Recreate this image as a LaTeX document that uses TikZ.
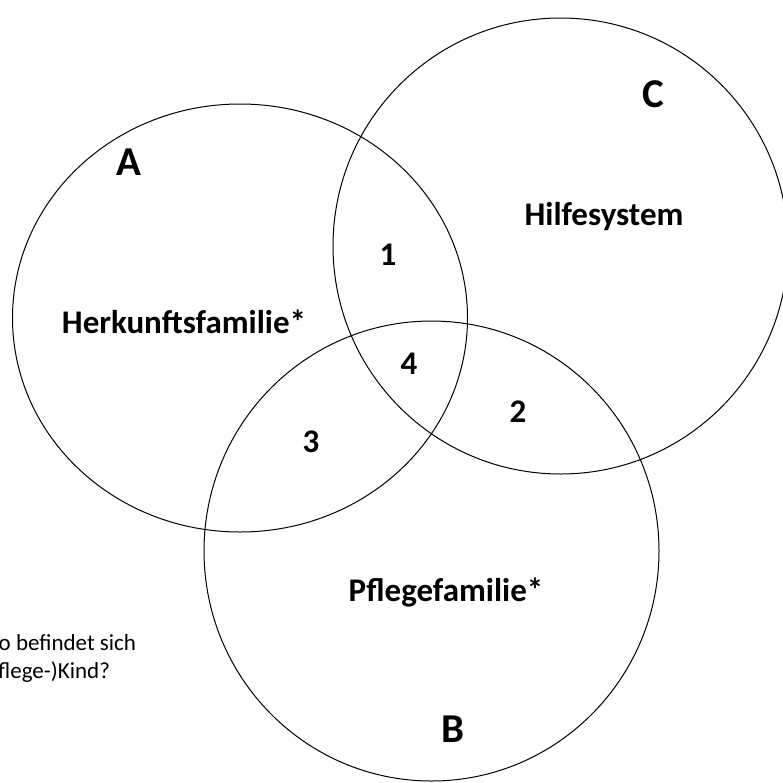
\documentclass[tikz,border=0pt]{standalone}
\usepackage{fontspec}
\setmainfont{Carlito}
\usepackage{tikz}

\begin{document}
\begin{tikzpicture}[x=1pt,y=-1pt,
    setletter/.style={font=\fontsize{41}{49}\selectfont\bfseries,inner sep=0pt,anchor=base},
    setname/.style={font=\fontsize{33}{40}\selectfont\bfseries,inner sep=0pt,anchor=base},
    note/.style={font=\fontsize{23}{28}\selectfont,inner sep=0pt,align=left,anchor=base west}]
\clip (0,0) rectangle (783,782);
\draw [line width=1pt] (240,318) ellipse [x radius=227.5, y radius=214];
\draw [line width=1pt] (560.5,246) ellipse [x radius=227.5, y radius=228];
\draw [line width=1pt] (431.5,551) ellipse [x radius=227.5, y radius=230];
\path (129,175) node[setletter] (a) {A}
      (653,107) node[setletter] (c) {C}
      (453,742) node[setletter] (b) {B}
      (184,333) node[setname] (herkunft) {Herkunftsfamilie*}
      (604,225) node[setname] (hilfe) {Hilfesystem}
      (446,601) node[setname] (pflege) {Pflegefamilie*}
      (388,265) node[setname] (one) {1}
      (518,422) node[setname] (two) {2}
      (311,452) node[setname] (three) {3}
      (409,374) node[setname] (four) {4}
      (-21,678) node[note] (frage) {Wo befindet sich\\(Pflege-)Kind?}
      ;
\end{tikzpicture}
\end{document}
